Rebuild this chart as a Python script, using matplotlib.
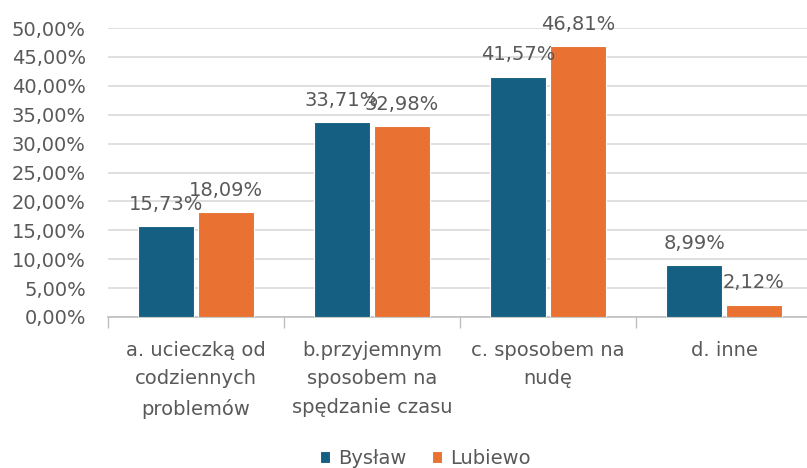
import matplotlib
matplotlib.use("Agg")
import matplotlib.pyplot as plt
import numpy as np

categories = ["a. ucieczką od\ncodziennych\nproblemów",
              "b.przyjemnym\nsposobem na\nspędzanie czasu",
              "c. sposobem na\nnudę",
              "d. inne"]
series_names = ["Bysław", "Lubiewo"]
byslaw = [15.73, 33.71, 41.57, 8.99]
lubiewo = [18.09, 32.98, 46.81, 2.12]
yticks = [0, 5, 10, 15, 20, 25, 30, 35, 40, 45, 50]

plt.rcParams['font.family'] = ['DejaVu Sans']
text_color = "#595959"
colors = ["#156082", "#E97132"]
fs = 14

fig = plt.figure(figsize=(8.07, 4.68), dpi=100)
ax = fig.add_axes([108/807, 1-317/468, 704/807, (317-28)/468])

x = np.arange(len(categories))
w = 0.315
off = 0.17
for vals, name, c, d in [(byslaw, series_names[0], colors[0], -off),
                         (lubiewo, series_names[1], colors[1], off)]:
    ax.bar(x + d, vals, width=w, color=c, edgecolor="white", linewidth=0.8,
           label=name, zorder=3)
    for xi, v in zip(x + d, vals):
        ax.annotate(f"{v:.2f}".replace(".", ",") + "%", (xi, v), xytext=(0, 9),
                    textcoords="offset points", ha="center", va="bottom",
                    fontsize=fs, color=text_color, zorder=4)

ax.set_xlim(-0.5, len(categories) - 0.5)
ax.set_ylim(0, 50)
ax.set_yticks(yticks)
ax.set_yticklabels([f"{t:.2f}".replace(".", ",") + "%" for t in yticks],
                   fontsize=fs, color=text_color)
ax.yaxis.grid(True, color="#d9d9d9", linewidth=1.2, zorder=0)
ax.set_axisbelow(True)
ax.tick_params(axis="y", length=0, pad=16)

ax.set_xticks(x)
ax.set_xticklabels(categories, fontsize=fs, color=text_color, linespacing=1.65)
ax.set_xticks(np.arange(-0.5, len(categories), 1.0), minor=True)
ax.tick_params(axis="x", which="major", length=0, pad=17)
ax.tick_params(axis="x", which="minor", length=8, color="#bfbfbf", width=1)

for s in ["top", "right", "left"]:
    ax.spines[s].set_visible(False)
ax.spines["bottom"].set_color("#bfbfbf")
ax.spines["bottom"].set_linewidth(1.2)

handles, labels = ax.get_legend_handles_labels()
fig.legend(handles, labels, loc="center", bbox_to_anchor=(0.527, 0.02), ncol=2,
           frameon=False, fontsize=fs, labelcolor=text_color, handlelength=0.55,
           handleheight=0.55, handletextpad=0.4, columnspacing=1.3)

fig.savefig("out.png", dpi=100)
